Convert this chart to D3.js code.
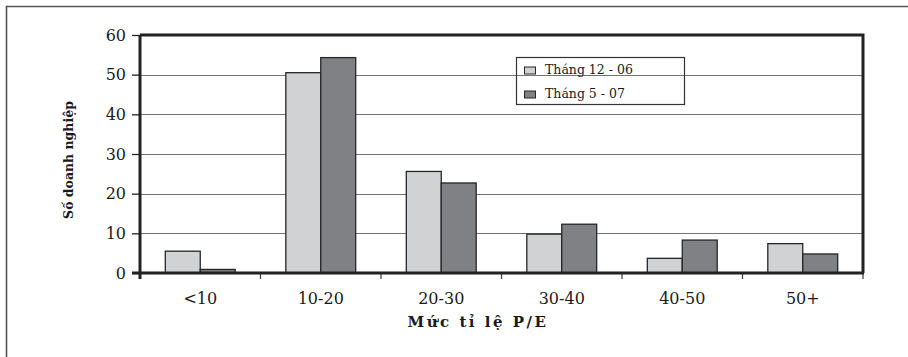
<!DOCTYPE html>
<html>
<head>
<meta charset="utf-8">
<script src="https://cdn.jsdelivr.net/npm/d3@7"></script>
<style>
  html, body { margin: 0; padding: 0; background: #fff; }
  svg { display: block; }
  text { font-family: "DejaVu Serif", "Liberation Serif", serif; fill: #1a1a1a; }
</style>
</head>
<body>
<svg id="chart" width="908" height="357"></svg>
<script>
// P/E ranges and number of companies in each range
const categories = ["<10", "10-20", "20-30", "30-40", "40-50", "50+"];
const seriesNames = ["Tháng 12 - 06", "Tháng 5 - 07"];
const dec06 = [5.5, 50.5, 25.6, 9.8, 3.7, 7.4];
const may07 = [0.9, 54.3, 22.7, 12.3, 8.3, 4.8];
const yTicks = [0, 10, 20, 30, 40, 50, 60];
const yTitle = "Số doanh nghiệp";
const xTitle = "Mức tỉ lệ P/E";

const seriesValues = [dec06, may07];
const fills = ["#d1d2d4", "#808185"];

const svg = d3.select("#chart");

// outer chart frame (left and top edges)
svg.append("path")
  .attr("d", "M6.5,357 V6.5 H908")
  .attr("fill", "none")
  .attr("stroke", "#555")
  .attr("stroke-width", 1.6);

const plot = { left: 140, right: 863, top: 35, bottom: 273 };

const x = d3.scaleBand()
  .domain(categories)
  .range([plot.left, plot.right])
  .paddingInner(0.42)
  .paddingOuter(0.21);

const xs = d3.scaleBand()
  .domain(d3.range(seriesNames.length))
  .range([0, x.bandwidth()]);

const y = d3.scaleLinear()
  .domain([0, 60])
  .range([plot.bottom, plot.top]);

// horizontal gridlines
svg.append("g")
  .selectAll("line")
  .data(yTicks.filter(v => v > 0 && v < 60))
  .join("line")
  .attr("x1", plot.left)
  .attr("x2", plot.right)
  .attr("y1", d => Math.round(y(d)) + 0.5)
  .attr("y2", d => Math.round(y(d)) + 0.5)
  .attr("stroke", "#737373")
  .attr("stroke-width", 1);

// bars
const groups = svg.append("g")
  .selectAll("g")
  .data(categories)
  .join("g")
  .attr("transform", d => `translate(${x(d)},0)`);

groups.selectAll("rect")
  .data((d, i) => seriesValues.map((vals, s) => ({ s, v: vals[i] })))
  .join("rect")
  .attr("x", d => xs(d.s))
  .attr("width", xs.bandwidth())
  .attr("y", d => y(d.v))
  .attr("height", d => y(0) - y(d.v))
  .attr("fill", d => fills[d.s])
  .attr("stroke", "#262626")
  .attr("stroke-width", 1.3);

// plot frame: top and right edges
svg.append("path")
  .attr("d", `M${plot.left},${plot.top} H${plot.right} V${plot.bottom}`)
  .attr("fill", "none")
  .attr("stroke", "#222")
  .attr("stroke-width", 3);

// y axis
const yAxis = d3.axisLeft(y)
  .tickValues(yTicks)
  .tickSize(8)
  .tickPadding(6)
  .tickFormat(d3.format("d"));

const gy = svg.append("g")
  .attr("transform", `translate(${plot.left},0)`)
  .call(yAxis);
gy.select(".domain").remove();
gy.selectAll(".tick line").attr("stroke", "#222").attr("stroke-width", 1.3);
gy.selectAll(".tick text")
  .attr("font-family", "DejaVu Serif")
  .attr("font-size", 16)
  .attr("fill", "#1a1a1a");

// x axis: ticks on category boundaries
const boundaries = categories.map(c => x(c) - x.step() * x.paddingInner() / 2);
boundaries.push(plot.right);
svg.append("g")
  .selectAll("line")
  .data(boundaries)
  .join("line")
  .attr("x1", d => d)
  .attr("x2", d => d)
  .attr("y1", plot.bottom)
  .attr("y2", plot.bottom + 6)
  .attr("stroke", "#444")
  .attr("stroke-width", 1.3);

const xAxis = d3.axisBottom(x).tickSize(0).tickPadding(20);
const gx = svg.append("g")
  .attr("transform", `translate(0,${plot.bottom})`)
  .call(xAxis);
gx.select(".domain").remove();
gx.selectAll(".tick text")
  .attr("font-family", "DejaVu Serif")
  .attr("font-size", 16)
  .attr("fill", "#1a1a1a");

// axis lines (left and bottom)
svg.append("path")
  .attr("d", `M${plot.left},${plot.top} V${plot.bottom + 6} M${plot.left - 8},${plot.bottom} H${plot.right + 1}`)
  .attr("fill", "none")
  .attr("stroke", "#222")
  .attr("stroke-width", 3);

// axis titles
svg.append("text")
  .attr("transform", `translate(73,160) rotate(-90)`)
  .attr("text-anchor", "middle")
  .attr("font-weight", "bold")
  .attr("font-size", 12.5)
  .text(yTitle);

svg.append("text")
  .attr("x", 478)
  .attr("y", 327)
  .attr("text-anchor", "middle")
  .attr("font-weight", "bold")
  .attr("font-size", 15)
  .attr("letter-spacing", "2.5px")
  .text(xTitle);

// legend
const legend = svg.append("g").attr("transform", "translate(516,57)");
legend.append("rect")
  .attr("x", 0.5).attr("y", 0.5)
  .attr("width", 168).attr("height", 47)
  .attr("fill", "none")
  .attr("stroke", "#333")
  .attr("stroke-width", 1.2);

const items = legend.selectAll("g.item")
  .data(seriesNames)
  .join("g")
  .attr("class", "item")
  .attr("transform", (d, i) => `translate(0,${i * 24})`);

items.append("rect")
  .attr("x", 8.5).attr("y", 10)
  .attr("width", 11).attr("height", 7)
  .attr("fill", (d, i) => fills[i])
  .attr("stroke", "#262626")
  .attr("stroke-width", 1);

items.append("text")
  .attr("x", 29)
  .attr("y", 17)
  .attr("font-size", 12.5)
  .text(d => d);
</script>
</body>
</html>
